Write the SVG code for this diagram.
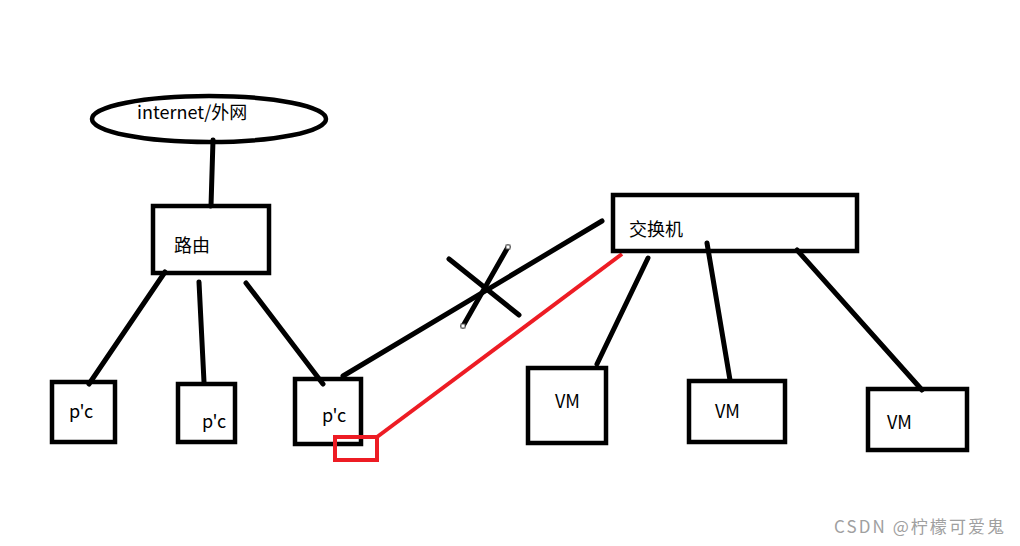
<svg xmlns="http://www.w3.org/2000/svg" width="1020" height="546" viewBox="0 0 1020 546">
<style>
.box{fill:none;stroke:#000;stroke-width:4.5}
.ln{stroke:#000;stroke-width:5;stroke-linecap:round;fill:none}
.red{stroke:#ED1C24;stroke-width:4;fill:none}
.t{font-family:"Noto Sans CJK SC","Noto Sans",sans-serif;font-size:18px;fill:#000}
.h{fill:#fff;stroke:#555;stroke-width:1}
.wm{font-family:"Noto Sans CJK SC","Noto Sans",sans-serif;font-size:17px;fill:#a0a0a0}
</style>
<rect width="1020" height="546" fill="#fff"/>
<g id="connectors">
<line class="ln" x1="213" y1="140" x2="211" y2="206"/>
<line class="ln" x1="165" y1="272" x2="89" y2="384"/>
<line class="ln" x1="199" y1="282" x2="204" y2="382"/>
<line class="ln" x1="246" y1="283" x2="323" y2="384"/>
<line class="ln" x1="343" y1="376" x2="602" y2="221"/>
<line class="ln" x1="648" y1="258" x2="597" y2="364"/>
<line class="ln" x1="707" y1="243" x2="730" y2="380"/>
<line class="ln" x1="797" y1="250" x2="922" y2="390"/>
<line class="red" x1="622" y1="254" x2="377" y2="437"/>
<line class="ln" x1="449" y1="259" x2="519" y2="315"/>
<line class="ln" x1="508" y1="247" x2="463" y2="326"/>
<rect class="h" x="506" y="245" width="4" height="4"/>
<rect class="h" x="461" y="324" width="4" height="4"/>
</g>
<g id="internet">
<ellipse class="box" cx="209" cy="119" rx="117" ry="23"/>
<text class="t" x="137" y="119">internet/外网</text>
</g>
<g id="router">
<rect class="box" x="153" y="206" width="116" height="67"/>
<text class="t" x="174" y="252">路由</text>
</g>
<g id="pc1">
<rect class="box" x="52" y="382" width="63" height="60"/>
<text class="t" x="69" y="418">p'c</text>
</g>
<g id="pc2">
<rect class="box" x="178" y="384" width="57" height="58"/>
<text class="t" x="202" y="428">p'c</text>
</g>
<g id="pc3">
<rect class="box" x="295" y="379" width="66" height="65"/>
<text class="t" x="322" y="422">p'c</text>
</g>
<g id="port">
<rect class="red" x="335" y="437" width="42" height="23"/>
</g>
<g id="switch">
<rect class="box" x="613" y="195" width="244" height="56"/>
<text class="t" x="629" y="236">交换机</text>
</g>
<g id="vm1">
<rect class="box" x="528" y="368" width="78" height="75"/>
<text class="t" x="555" y="408">VM</text>
</g>
<g id="vm2">
<rect class="box" x="689" y="381" width="96" height="61"/>
<text class="t" x="715" y="418">VM</text>
</g>
<g id="vm3">
<rect class="box" x="868" y="389" width="99" height="61"/>
<text class="t" x="887" y="429">VM</text>
</g>
<text class="wm" x="834" y="533" textLength="170" lengthAdjust="spacing">CSDN @柠檬可爱鬼</text>
</svg>
